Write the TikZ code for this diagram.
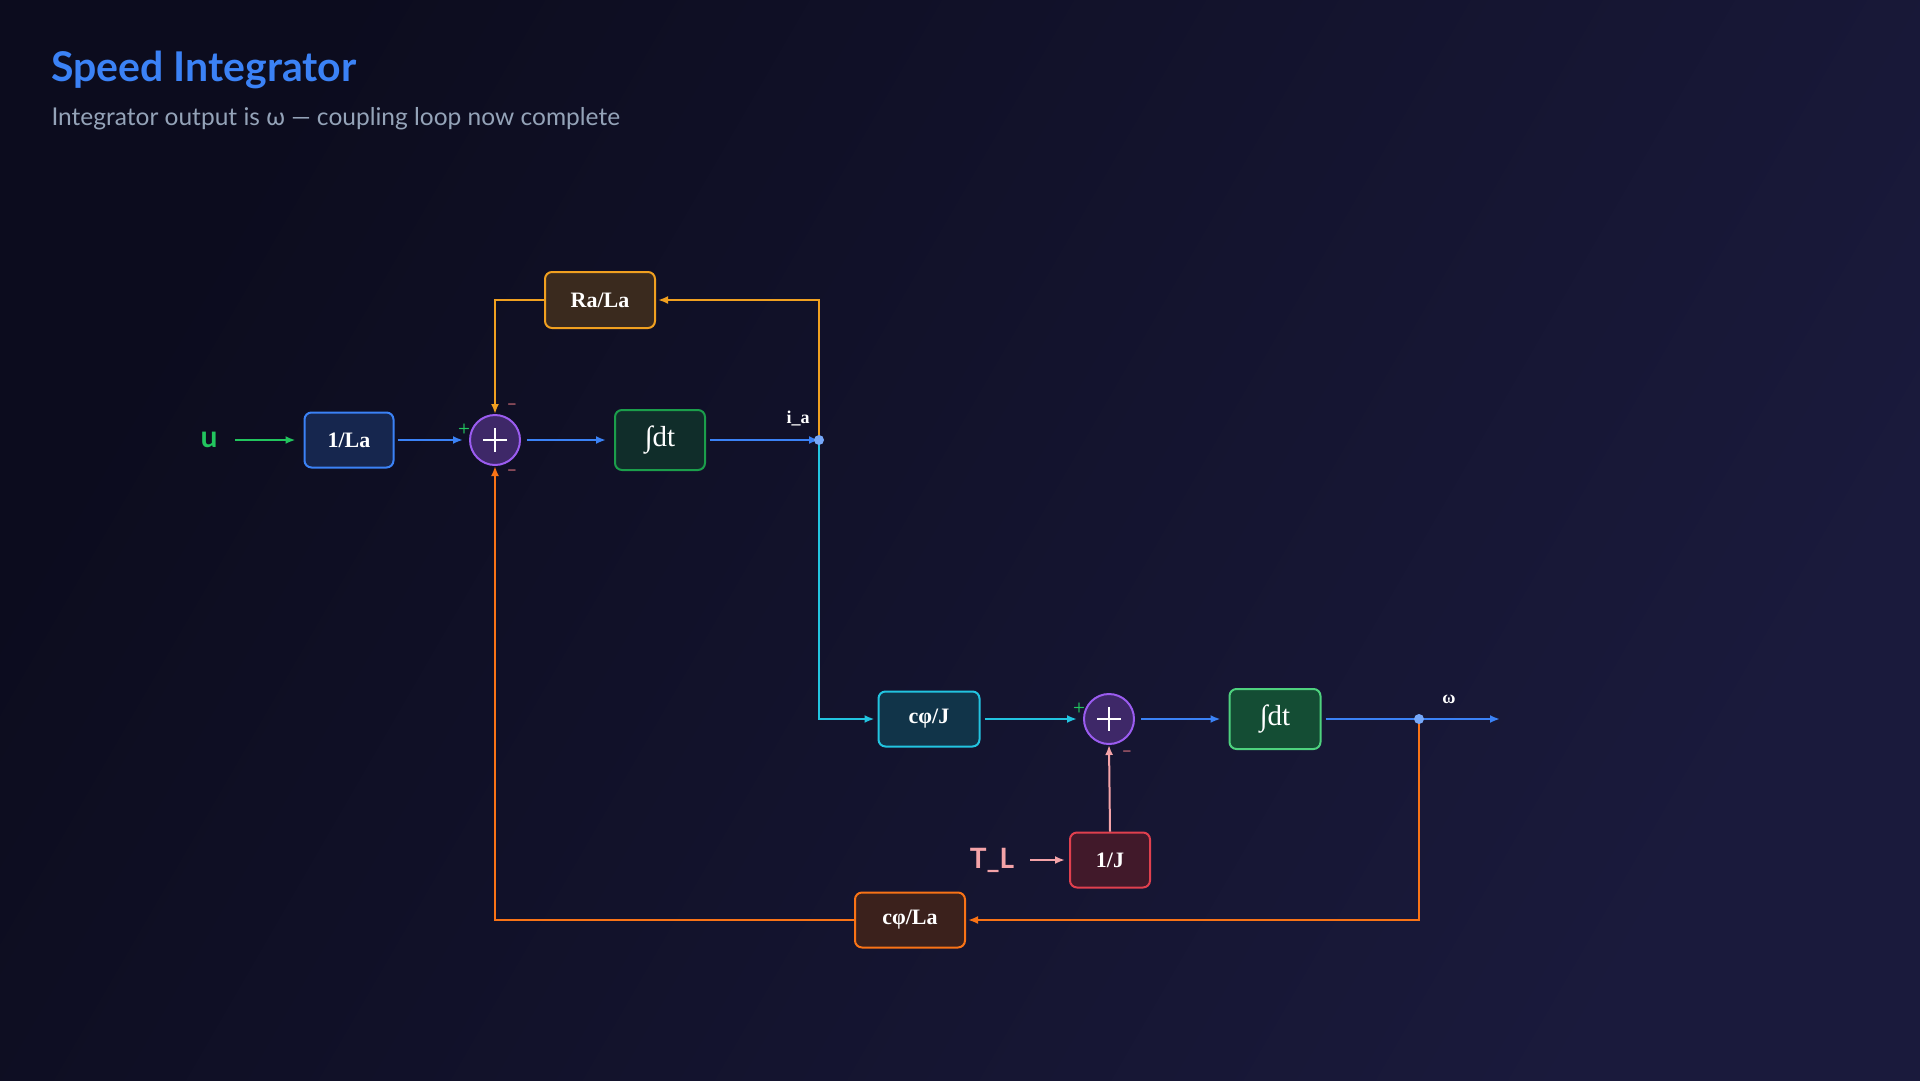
\documentclass[tikz,border=0pt]{standalone}
\usepackage{fontspec}
\setmainfont{Liberation Serif}
\newfontfamily\titlefont{Lato}
\usetikzlibrary{arrows.meta}
\definecolor{bgA}{HTML}{0C0C1E}
\definecolor{bgB}{HTML}{1A1A3C}
\definecolor{cblue}{HTML}{3B82F6}
\definecolor{ccyan}{HTML}{22C4E0}
\definecolor{cgold}{HTML}{F0A020}
\definecolor{corange}{HTML}{F97316}
\definecolor{cpink}{HTML}{F4A3A8}
\definecolor{cgreen}{HTML}{22C55E}
\definecolor{cpurple}{HTML}{9B5CF0}
\definecolor{cred}{HTML}{E0404E}
\definecolor{subgray}{HTML}{94A3B8}
\begin{document}
\begin{tikzpicture}[x=1pt,y=-1pt,
  box/.style={draw,rounded corners=7pt,line width=2pt,text=white,font=\fontsize{22}{26}\selectfont\bfseries,inner sep=0pt},
  integ/.style={box,font=\fontsize{29}{30}\selectfont},
  sumn/.style={circle,draw=cpurple,fill=cpurple!35!bgA,line width=2pt,minimum size=50pt,inner sep=0pt,text=white},
  ar/.style={line width=2.5pt,-{Latex[length=10pt,width=8pt]}},
  sgn/.style={font=\fontsize{14}{14}\selectfont\bfseries\sffamily}]
\shade[top color=bgA,bottom color=bgB,shading angle=60] (0,0) rectangle (1920,1080);
\useasboundingbox (0,0) rectangle (1920,1080);
\node[anchor=west,text=cblue,font=\titlefont\fontsize{41}{44}\selectfont\bfseries] (title) at (48,70) {Speed Integrator};
\node[anchor=west,text=subgray,font=\titlefont\fontsize{24.5}{28}\selectfont] (sub) at (48,119) {Integrator output is ω — coupling loop now complete};

\node[text=cgreen,font=\titlefont\fontsize{30}{30}\selectfont\bfseries,anchor=center] (u) at (209,440) {u};
\node[box,fill=cblue!22!bgA,draw=cblue,minimum width=89pt,minimum height=55pt] (la) at (349,440) {1/La};
\node[sumn] (s1) at (495,440) {};
\draw[white,line width=2pt] (s1.center)+(-12,0) -- +(12,0) (s1.center)+(0,-12) -- +(0,12);
\node[integ,fill=cgreen!18!bgA,draw=cgreen!80!black,minimum width=90pt,minimum height=60pt] (i1) at (660,440) {∫dt};
\coordinate (ja) at (819,440);
\node[text=white,font=\fontsize{18}{18}\selectfont\bfseries] (lia) at (798,418) {i\_a};
\node[box,fill=cgold!20!bgA,draw=cgold,minimum width=110pt,minimum height=56pt] (rl) at (600,300) {Ra/La};
\node[box,fill=ccyan!22!bgA,draw=ccyan,minimum width=101pt,minimum height=55pt] (cj) at (929,719) {cφ/J};
\node[sumn] (s2) at (1109,719) {};
\draw[white,line width=2pt] (s2.center)+(-12,0) -- +(12,0) (s2.center)+(0,-12) -- +(0,12);
\node[integ,fill=cgreen!35!bgA,draw=cgreen!80!white,minimum width=91pt,minimum height=60pt] (i2) at (1275,719) {∫dt};
\coordinate (jw) at (1419,719);
\coordinate (out) at (1500,719);
\node[text=white,font=\fontsize{18}{18}\selectfont\bfseries] (lw) at (1449,699) {ω};
\node[box,fill=cred!25!bgA,draw=cred,minimum width=80pt,minimum height=55pt] (j) at (1110,860) {1/J};
\node[text=cpink,font=\titlefont\fontsize{28}{28}\selectfont\bfseries] (tl) at (992,860) {T\_L};
\node[box,fill=corange!20!bgA,draw=corange,minimum width=110pt,minimum height=55pt] (cl) at (910,920) {cφ/La};

\node[sgn,text=cgreen] (p1) at (464,429) {+};
\node[sgn,text=cred!70!white] (m1) at (512,406) {–};
\node[sgn,text=cred!70!white] (m2) at (512,472) {–};
\node[sgn,text=cgreen] (p2) at (1079,708) {+};
\node[sgn,text=cred!70!white] (m3) at (1127,753) {–};

\draw[ar,cgreen] ([xshift=26pt]u.center) -- ([xshift=-8pt]la.west);
\draw[ar,cblue] ([xshift=3pt]la.east) -- ([xshift=-6pt]s1.west);
\draw[ar,cblue] ([xshift=6pt]s1.east) -- ([xshift=-8pt]i1.west);
\draw[ar,cblue] ([xshift=4pt]i1.east) -- (ja);
\draw[ar,cgold] (ja) |- ([xshift=2pt]rl.east);
\draw[ar,cgold] (rl.west) -| (s1.north);
\draw[ar,ccyan] (ja) |- ([xshift=-3pt]cj.west);
\draw[ar,ccyan] ([xshift=4pt]cj.east) -- ([xshift=-6pt]s2.west);
\draw[ar,cblue] ([xshift=6pt]s2.east) -- ([xshift=-8pt]i2.west);
\draw[ar,cblue] ([xshift=4pt]i2.east) -- (out);
\draw[ar,cpink] ([xshift=38pt]tl.center) -- ([xshift=-4pt]j.west);
\draw[ar,cpink,line width=2pt] (j.north) -- (s2.south);
\draw[ar,corange] (jw) |- ([xshift=2pt]cl.east);
\draw[ar,corange] (cl.west) -| (s1.south);
\fill[cblue!70!white] (ja) circle (5pt);
\fill[cblue!70!white] (jw) circle (5pt);
\end{tikzpicture}
\end{document}
